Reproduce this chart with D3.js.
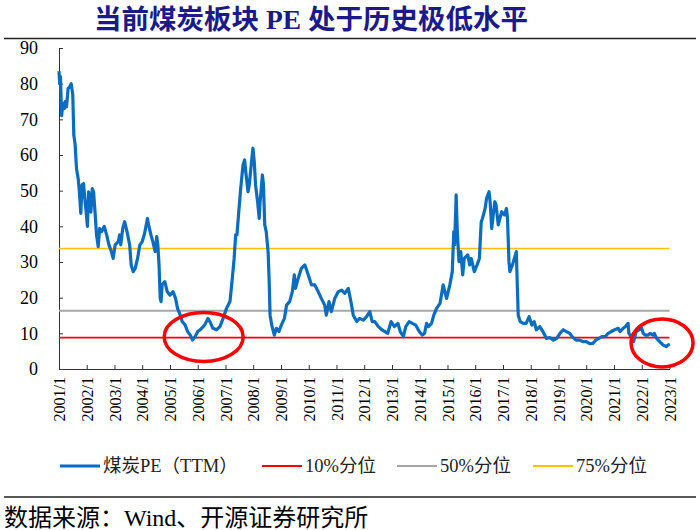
<!DOCTYPE html>
<html><head><meta charset="utf-8">
<script src="https://cdn.jsdelivr.net/npm/d3@7"></script>
<style>
body{margin:0;background:#fff;}
text{font-family:"Liberation Serif","Times New Roman","Noto Sans CJK SC",serif;}
</style></head>
<body><svg id="c" width="700" height="530"></svg>
<script>
const title = "当前煤炭板块 PE 处于历史极低水平";
const source = "数据来源：Wind、开源证券研究所";
const seriesNames = ["煤炭PE（TTM）", "10%分位", "50%分位", "75%分位"];
const seriesColors = ["#0B6DC2", "#FF0000", "#A6A6A6", "#FFC000"];
const percentileValues = [8.8, 16.3, 33.8];
const yTicks = [0,10,20,30,40,50,60,70,80,90];
const tickYears = d3.range(2001, 2024);
const dates = [
"2001-01-01","2001-01-10","2001-01-20","2001-02-05","2001-02-20","2001-03-10","2001-03-25","2001-04-10","2001-05-01","2001-05-20","2001-06-10","2001-07-01","2001-07-15","2001-08-01","2001-08-20","2001-09-10","2001-09-25","2001-10-15","2001-11-01","2001-11-20","2001-12-10","2001-12-25",
"2002-01-10","2002-01-25","2002-02-25","2002-03-15","2002-04-01","2002-04-20","2002-05-10","2002-06-01","2002-06-20","2002-07-15","2002-08-20","2002-09-20","2002-10-20","2002-11-20","2002-12-15",
"2003-01-10","2003-02-20","2003-03-10","2003-03-25","2003-04-20","2003-05-15","2003-06-15","2003-07-20","2003-08-10","2003-09-05","2003-10-01","2003-11-01","2003-12-01",
"2004-01-01","2004-02-01","2004-03-10","2004-03-25","2004-04-25","2004-05-20","2004-06-20","2004-07-10","2004-07-25","2004-08-10","2004-08-25","2004-09-05","2004-09-20","2004-10-25","2004-11-25",
"2005-01-01","2005-02-10","2005-03-15","2005-04-10","2005-05-15","2005-06-10","2005-07-20","2005-08-20","2005-09-25","2005-10-25","2005-11-25",
"2006-01-01","2006-02-01","2006-04-01","2006-05-15","2006-06-10","2006-07-20","2006-09-05","2006-10-20","2006-12-01",
"2007-01-15","2007-03-01","2007-04-01","2007-04-25","2007-05-15","2007-06-01","2007-06-25","2007-07-20","2007-08-20","2007-09-10","2007-09-25","2007-10-25","2007-11-10","2007-12-10","2007-12-28",
"2008-01-15","2008-02-01","2008-02-28","2008-03-20","2008-04-01","2008-05-01","2008-05-15","2008-06-01","2008-06-20","2008-07-15","2008-07-28","2008-08-10","2008-09-01","2008-10-05","2008-11-01","2008-12-05",
"2009-01-05","2009-02-15","2009-03-15","2009-04-25","2009-05-30","2009-06-25","2009-07-10","2009-08-15","2009-09-25","2009-11-10","2009-12-25",
"2010-02-05","2010-03-20","2010-05-05","2010-06-15","2010-07-30","2010-08-20","2010-09-25","2010-10-25","2010-12-10",
"2011-01-25","2011-03-10","2011-04-20","2011-06-05","2011-07-10","2011-08-10","2011-09-25","2011-11-01","2011-12-20",
"2012-02-01","2012-03-15","2012-04-15","2012-05-20","2012-07-05","2012-08-20","2012-10-01","2012-11-05","2012-12-20",
"2013-02-01","2013-03-20","2013-04-20","2013-05-30","2013-07-01","2013-08-15","2013-09-25","2013-11-10","2013-12-25",
"2014-02-05","2014-03-05","2014-04-01","2014-04-25","2014-06-05","2014-07-05","2014-08-10","2014-09-25","2014-11-05","2014-12-20",
"2015-02-01","2015-03-05","2015-03-25","2015-04-05","2015-04-25","2015-05-10","2015-06-01","2015-06-25","2015-07-20","2015-08-10","2015-09-25","2015-10-20","2015-11-10","2015-12-20",
"2016-01-25","2016-02-25","2016-03-20","2016-04-05","2016-05-10","2016-05-30","2016-07-01","2016-07-15","2016-08-05","2016-08-25","2016-09-15","2016-10-01","2016-10-30","2016-11-20","2016-12-15",
"2017-01-20","2017-02-15","2017-03-01","2017-03-20","2017-04-01","2017-05-05","2017-05-30","2017-06-25","2017-07-05","2017-07-20","2017-08-15","2017-09-25","2017-11-01","2017-12-10",
"2018-01-15","2018-02-15","2018-03-15","2018-04-30","2018-06-10","2018-07-25","2018-09-10","2018-10-25","2018-12-10",
"2019-01-20","2019-03-05","2019-04-15","2019-05-30","2019-07-10","2019-08-20","2019-10-05","2019-11-15",
"2020-01-01","2020-02-15","2020-03-30","2020-05-05","2020-06-15","2020-07-30","2020-09-10","2020-10-15","2020-11-25",
"2021-01-10","2021-02-25","2021-03-20","2021-05-01","2021-06-01","2021-07-05","2021-07-15","2021-08-01","2021-08-30","2021-09-15","2021-10-20","2021-11-20","2021-12-30",
"2022-01-20","2022-02-15","2022-03-25","2022-04-20","2022-05-30","2022-06-15","2022-07-15","2022-08-25","2022-10-10","2022-11-20","2022-12-10","2023-01-05"];
const peValues = [
83.5,80,82,71,74.5,73,75,73.5,78.7,79,80,77,65.6,63,56,53.5,50,43.6,51.6,52,47,44,
40,49.7,44,50.6,49.7,44,37.6,34.3,39.4,38.5,40,37.6,34.8,33,31,
34.8,35.7,37.6,34.8,39.4,41.3,38.5,34.8,29,27.3,28.2,31,34.8,
35.7,38,42.2,40.4,37.6,35.7,32.9,37.1,34.8,29,19.8,18.9,23.6,24.5,21.7,
20.7,21.7,19.8,17,15.1,13.3,12.3,10.5,9.5,8.1,9,
10.5,11,12.3,14.2,13.3,11.4,11,11.9,14.2,
17,18.9,25.4,31,37.6,37.6,44.1,50.6,57.2,58.6,55.3,49.7,51.6,58.1,61.9,
58.1,51.6,46.9,42.2,46.9,54.4,51.6,40.4,38.5,32.9,25.4,15.1,12.3,9.5,11.4,10.5,
12.3,14.2,17.9,18.9,21.7,26.4,22.6,25.4,28.2,29.2,26.4,
23.6,23.6,21.7,19.8,17.9,15.1,18.9,16.1,19.8,
21.7,22.1,21.2,22.6,18.9,15.1,13.3,14.2,13.7,
14.7,16.1,13.3,13.3,11.9,11,10.5,10,13.3,
11.9,12.8,10.5,9.1,11.9,13.3,12.8,12.3,10.5,
9.5,10,12.8,11.9,12.8,15.1,17,18.4,23.6,19.8,
23.6,27.3,38.5,34.8,48.8,38.5,30.1,32.9,26.4,31,32,29.2,31,27.3,
29.2,31,41.3,42.2,45,47.9,49.7,46.9,39.4,43.2,46.9,46,40.4,42.2,44.1,
43.2,45,42.2,30.1,27.3,29.2,31,32.9,25.4,15.1,13.3,12.8,12.8,14.7,
12.3,13.3,11,11.9,10.5,8.6,8.8,8.1,8.6,
10,11,10.5,10,8.8,8.1,8.1,7.7,
7.7,7.1,7.2,8.1,8.6,9.1,9.1,10,10.5,
11,11.4,10.5,11.4,11.9,12.8,10,9.5,8.1,7.7,10.5,10.9,11.4,
10,9.5,9.5,10,9.5,10,8.6,7.7,6.7,6.3,6.7,7];
const highlightDates = ["2006-03-20", "2022-09-25"];
const highlightValues = [9.0, 7.3];

const parse = d3.timeParse("%Y-%m-%d");
const data = dates.map((d,i)=>({date:parse(d), v:peValues[i]}));
const svg = d3.select("#c");

const x = d3.scaleTime().domain([new Date(2001,0,1), new Date(2023,0,1)]).range([59, 669.5]);
const y = d3.scaleLinear().domain([0,90]).range([369, 48]);

// title
svg.append("text").attr("x",311).attr("y",29).attr("text-anchor","middle")
  .attr("font-size",27.5).attr("font-weight","bold").attr("fill","#1a1a8c").text(title);
svg.append("line").attr("x1",4).attr("x2",696).attr("y1",38.5).attr("y2",38.5).attr("stroke","#222").attr("stroke-width",1.6);

// axes
const yAxis = d3.axisLeft(y).tickValues(yTicks).tickSizeInner(-4).tickSizeOuter(0).tickPadding(21);
const gy = svg.append("g").attr("transform","translate(59,0)").call(yAxis);
gy.selectAll("text").attr("font-size",18).attr("font-family","Liberation Serif").attr("fill","#000");
gy.selectAll("line,path").attr("stroke","#333");

const xAxis = d3.axisBottom(x).tickValues(tickYears.map(yr=>new Date(yr,0,1)))
  .tickFormat(d3.timeFormat("%Y/%-m")).tickSizeInner(-4).tickSizeOuter(0);
const gx = svg.append("g").attr("transform","translate(0,369)").call(xAxis);
gx.selectAll("text").attr("transform","rotate(-90)").attr("x",-8).attr("y",0).attr("dy","0.35em")
  .attr("text-anchor","end").attr("font-size",16).attr("font-family","Liberation Serif").attr("fill","#000");
gx.selectAll("line,path").attr("stroke","#333");

// percentile lines
const pctColors = seriesColors.slice(1);
const pctWidths = [1.6, 2, 1.6];
percentileValues.forEach((v,i)=>{
  svg.append("line").attr("x1",x.range()[0]).attr("x2",x.range()[1])
    .attr("y1",y(v)).attr("y2",y(v)).attr("stroke",pctColors[i]).attr("stroke-width",pctWidths[i]);
});

// series
svg.append("path").datum(data)
  .attr("d", d3.line().x(d=>x(d.date)).y(d=>y(d.v)))
  .attr("fill","none").attr("stroke",seriesColors[0]).attr("stroke-width",3.2).attr("stroke-linejoin","round");

// highlight ellipses
const radii = [[39.5,24.5],[31,24]];
highlightDates.forEach((d,i)=>{
  svg.append("ellipse").attr("cx",x(parse(d))).attr("cy",y(highlightValues[i]))
    .attr("rx",radii[i][0]).attr("ry",radii[i][1]).attr("fill","none").attr("stroke","#FF0000").attr("stroke-width",3.5);
});

// legend
const legX = [60, 262, 397, 533];
const legW = [3, 2, 2, 2];
seriesNames.forEach((n,i)=>{
  svg.append("line").attr("x1",legX[i]).attr("x2",legX[i]+40).attr("y1",466).attr("y2",466)
    .attr("stroke",seriesColors[i]).attr("stroke-width",legW[i]);
  svg.append("text").attr("x",legX[i]+43).attr("y",466).attr("dy","0.35em")
    .attr("font-size",18.5).attr("fill","#222").text(n);
});

// source
svg.append("line").attr("x1",4).attr("x2",696).attr("y1",497).attr("y2",497).attr("stroke","#222").attr("stroke-width",1.4);
svg.append("text").attr("x",4).attr("y",526).attr("font-size",24).attr("fill","#000").text(source);
</script></body></html>
